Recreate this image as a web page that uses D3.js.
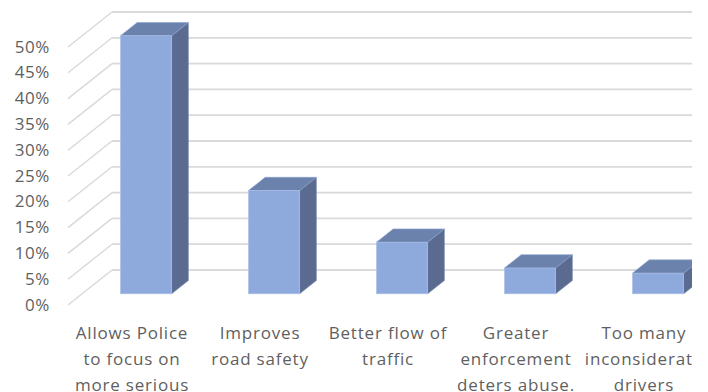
<!DOCTYPE html>
<html>
<head>
<meta charset="utf-8">
<script src="https://cdn.jsdelivr.net/npm/d3@7"></script>
<style>
  html, body { margin: 0; padding: 0; background: #fff; }
  svg { display: block; }
</style>
</head>
<body>
<svg id="chart" width="708" height="392"></svg>
<script>
// Survey answers and their shares
const categories = [
  "Allows Police to focus on more serious",
  "Improves road safety",
  "Better flow of traffic",
  "Greater enforcement deters abuse.",
  "Too many inconsiderate drivers"
];
const categoryLines = [
  ["Allows Police", "to focus on", "more serious"],
  ["Improves", "road safety"],
  ["Better flow of", "traffic"],
  ["Greater", "enforcement", "deters abuse."],
  ["Too many", "inconsiderate", "drivers"]
];
const values = [0.50, 0.20, 0.10, 0.05, 0.04];
const tickValues = [0, 0.05, 0.10, 0.15, 0.20, 0.25, 0.30, 0.35, 0.40, 0.45, 0.50];
const tickLabels = ["0%", "5%", "10%", "15%", "20%", "25%", "30%", "35%", "40%", "45%", "50%"];

const svg = d3.select("#chart");

// Oblique projection: the floor runs back by DX, DY
const DX = 44, DY = -35;
const frontLeft = 68, frontRight = 708;
const barFront = 0.32, barBack = 0.70;   // bar position inside the depth

const y = d3.scaleLinear().domain([0, 0.5]).range([305, 47]);
const x = d3.scaleBand().domain(categories).range([frontLeft, frontRight])
  .paddingInner(0.6).paddingOuter(0.3);

const clip = svg.append("defs").append("clipPath").attr("id", "plotClip");
clip.append("rect").attr("x", 0).attr("y", 0).attr("width", 692).attr("height", 392);

const root = svg.append("g").attr("clip-path", "url(#plotClip)");

// Back wall gridlines and their floor-side diagonals
const grid = root.append("g");
grid.selectAll("line.back").data(tickValues).join("line")
  .attr("class", "back")
  .attr("x1", frontLeft + DX).attr("x2", frontRight + DX)
  .attr("y1", d => y(d) + DY).attr("y2", d => y(d) + DY)
  .attr("stroke", "#d9d9d9").attr("stroke-width", 1.8);
grid.selectAll("line.diag").data(tickValues).join("line")
  .attr("class", "diag")
  .attr("x1", frontLeft).attr("y1", d => y(d))
  .attr("x2", frontLeft + DX).attr("y2", d => y(d) + DY)
  .attr("stroke", "#d9d9d9").attr("stroke-width", 1.4);

// 3D columns
const bw = x.bandwidth();
const fx = barFront * DX, fy = barFront * DY;
const bx = (barBack - barFront) * DX, by = (barBack - barFront) * DY;

const bars = root.append("g").selectAll("g").data(categories).join("g");
bars.each(function (c, i) {
  const g = d3.select(this);
  const x0 = x(c) + fx, x1 = x0 + bw;
  const yb = y(0) + fy, yt = y(values[i]) + fy;
  // right side face
  g.append("path")
    .attr("d", `M${x1},${yt}L${x1 + bx},${yt + by}L${x1 + bx},${yb + by}L${x1},${yb}Z`)
    .attr("fill", "#5a6b8f").attr("stroke", "#7a8fbb").attr("stroke-width", 0.6);
  // top face
  g.append("path")
    .attr("d", `M${x0},${yt}L${x0 + bx},${yt + by}L${x1 + bx},${yt + by}L${x1},${yt}Z`)
    .attr("fill", "#6b82ad").attr("stroke", "#8aa2cf").attr("stroke-width", 0.6);
  // front face
  g.append("rect")
    .attr("x", x0).attr("y", yt).attr("width", bw).attr("height", yb - yt)
    .attr("fill", "#8eaadc").attr("stroke", "#a9c0e8").attr("stroke-width", 0.6);
});

// Value axis labels
root.append("g").selectAll("text").data(tickValues).join("text")
  .attr("x", 50).attr("y", d => y(d) - 1)
  .attr("text-anchor", "end").attr("dominant-baseline", "central")
  .attr("font-family", "'Open Sans', sans-serif").attr("font-size", 17)
  .attr("letter-spacing", 0.6)
  .attr("fill", "#5f5f5f")
  .text((d, i) => tickLabels[i]);

// Category labels
const cat = root.append("g").selectAll("text").data(categories).join("text")
  .attr("x", c => x(c) + bw / 2).attr("y", 332)
  .attr("text-anchor", "middle")
  .attr("font-family", "'Open Sans', sans-serif").attr("font-size", 17)
  .attr("letter-spacing", 0.8)
  .attr("fill", "#5f5f5f");
cat.each(function (c, i) {
  d3.select(this).selectAll("tspan").data(categoryLines[i]).join("tspan")
    .attr("x", x(c) + bw / 2)
    .attr("y", (d, k) => 332 + k * 26)
    .attr("dominant-baseline", "central")
    .text(d => d);
});
</script>
</body>
</html>
